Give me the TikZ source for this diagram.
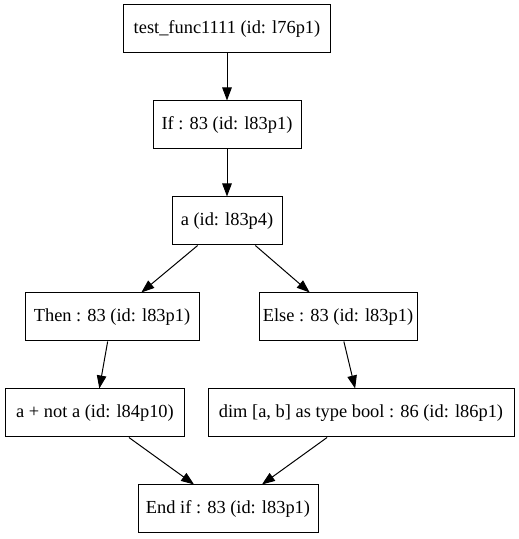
\documentclass[tikz,border=0pt]{standalone}
\usepackage{fontspec}
\setmainfont{Liberation Serif}
\usetikzlibrary{arrows.meta}
\begin{document}
\begin{tikzpicture}[x=1pt,y=1pt,
  box/.style={draw=black,line width=1pt,minimum height=48pt,inner sep=0pt,font=\fontsize{18.4pt}{20pt}\selectfont},
  edge/.style={line width=1pt,-{Triangle[length=13pt,width=9.5pt]}}]
\useasboundingbox (0,0) rectangle (519,539);
\node[box,minimum width=207pt] (f) at (227,510) {test\_func1111 (id: l76p1)};
\node[box,minimum width=148pt] (if) at (227,414) {If : 83 (id: l83p1)};
\node[box,minimum width=110pt] (a) at (227,318) {a (id: l83p4)};
\node[box,minimum width=174pt] (then) at (112,222) {Then : 83 (id: l83p1)};
\node[box,minimum width=158pt] (else) at (338,222) {Else : 83 (id: l83p1)};
\node[box,minimum width=179pt] (anot) at (95,126) {a + not a (id: l84p10)};
\node[box,minimum width=306pt] (dim) at (361,126) {dim [a, b] as type bool : 86 (id: l86p1)};
\node[box,minimum width=180pt] (end) at (228,30) {End if : 83 (id: l83p1)};
\draw[edge] (f) -- (if);
\draw[edge] (if) -- (a);
\draw[edge] (a) -- (then);
\draw[edge] (a) -- (else);
\draw[edge] (then) -- (anot);
\draw[edge] (else) -- (dim);
\draw[edge] (anot) -- (end);
\draw[edge] (dim) -- (end);
\end{tikzpicture}
\end{document}
